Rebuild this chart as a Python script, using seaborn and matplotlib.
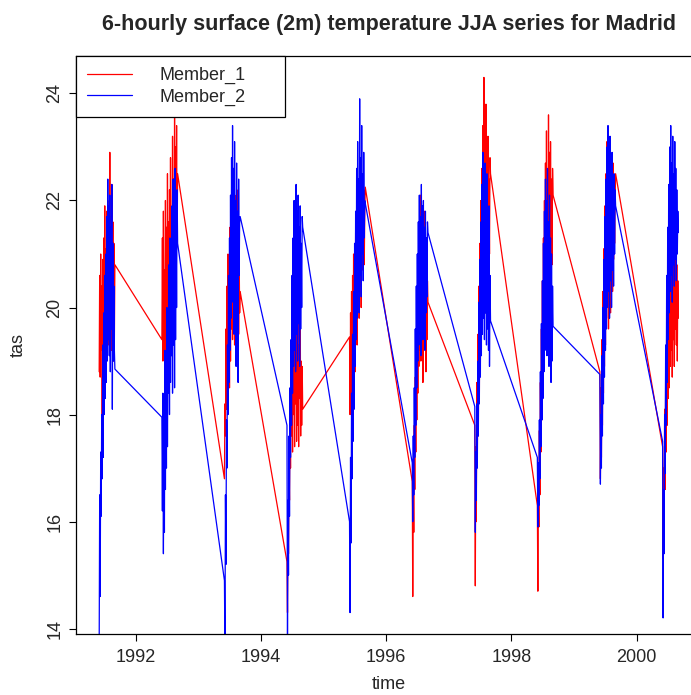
import numpy as np
import pandas as pd
import matplotlib
matplotlib.use("Agg")
import matplotlib.pyplot as plt
import matplotlib.dates as mdates
import seaborn as sns

years = [1991, 1992, 1993, 1994, 1995, 1996, 1997, 1998, 1999, 2000]
members = ["Member_1", "Member_2"]

m1_1991 = [18.8, 20.6, 18.7, 21.0, 19.2, 20.4, 17.6, 20.9, 19.0, 21.3, 18.9, 21.9, 19.5, 21.1, 19.0, 21.8, 19.8, 22.0, 19.3, 21.4, 20.0, 22.9, 19.6, 21.7, 19.2, 22.3, 20.1, 21.6, 19.0, 21.2, 19.4, 20.8]
m1_1992 = [19.4, 21.3, 19.0, 21.8, 19.6, 20.7, 18.6, 22.0, 19.8, 21.5, 19.2, 22.5, 20.1, 21.6, 19.5, 22.2, 20.4, 22.8, 19.9, 21.4, 20.6, 23.2, 20.3, 22.4, 21.0, 23.6, 20.8, 23.0, 21.6, 23.4, 21.2, 22.5]
m1_1993 = [16.8, 18.2, 17.6, 19.6, 18.1, 20.4, 18.6, 21.0, 19.2, 20.2, 18.5, 21.5, 19.0, 22.0, 19.6, 21.3, 19.4, 22.3, 20.0, 21.6, 19.3, 21.9, 20.2, 22.1, 19.8, 21.4, 20.3, 22.2, 19.5, 21.0, 19.9, 20.3]
m1_1994 = [15.25, 14.3, 16.2, 15.4, 17.1, 16.4, 18.3, 17.0, 19.2, 17.6, 19.8, 17.3, 20.4, 18.0, 19.6, 17.4, 20.2, 18.2, 19.9, 17.5, 20.1, 17.8, 19.3, 17.4, 19.7, 18.3, 20.3, 17.6, 19.0, 17.8, 18.9, 18.1]
m1_1995 = [19.45, 18.0, 19.9, 18.4, 20.3, 17.8, 20.6, 18.6, 21.0, 19.1, 20.5, 18.8, 21.4, 19.6, 21.8, 19.3, 22.0, 20.1, 21.5, 19.8, 22.3, 20.4, 22.6, 20.0, 21.9, 20.7, 22.4, 21.0, 22.2, 20.8, 21.7, 22.25]
m1_1996 = [16.75, 14.6, 16.9, 15.8, 17.8, 16.6, 18.7, 17.3, 19.5, 17.9, 20.2, 18.4, 21.0, 18.9, 21.6, 19.2, 22.1, 19.0, 21.3, 19.5, 21.9, 18.6, 21.4, 19.3, 21.8, 19.7, 21.0, 18.8, 20.8, 19.4, 20.5, 20.1]
m1_1997 = [17.8, 14.8, 17.4, 16.0, 18.6, 17.1, 19.5, 17.6, 20.4, 18.3, 21.2, 18.9, 22.0, 19.4, 22.6, 19.8, 23.4, 20.2, 24.3, 20.5, 23.0, 19.9, 23.8, 20.6, 22.7, 20.1, 23.2, 20.8, 22.4, 21.0, 22.8, 22.5]
m1_1998 = [16.3, 14.7, 16.8, 15.9, 17.7, 16.5, 18.6, 17.3, 19.6, 17.9, 20.5, 18.4, 21.3, 19.0, 22.0, 19.5, 22.7, 19.9, 23.3, 20.3, 22.5, 19.7, 23.6, 20.4, 22.9, 20.0, 23.1, 20.6, 22.4, 20.8, 22.6, 22.1]
m1_1999 = [18.8, 16.8, 18.5, 17.2, 19.4, 17.8, 20.3, 18.4, 21.1, 18.9, 21.9, 19.3, 22.5, 19.8, 23.1, 20.2, 22.6, 19.6, 22.9, 20.4, 22.3, 19.9, 22.8, 20.6, 22.2, 20.3, 22.7, 20.9, 22.4, 21.2, 22.0, 22.5]
m1_2000 = [17.4, 15.3, 17.0, 15.9, 18.1, 16.6, 18.8, 17.3, 19.6, 17.8, 20.4, 18.3, 21.1, 18.5, 21.6, 18.9, 22.3, 19.2, 21.4, 18.7, 21.9, 19.4, 21.2, 18.9, 21.7, 19.6, 21.0, 19.3, 20.8, 19.0, 20.5, 19.8]

m2_1991 = [13.6, 16.5, 14.6, 17.3, 16.1, 18.0, 16.8, 19.3, 17.2, 19.9, 18.0, 20.6, 18.3, 21.0, 18.6, 21.7, 19.0, 22.4, 19.4, 21.9, 19.1, 22.1, 18.8, 21.5, 19.6, 22.3, 18.1, 21.2, 19.0, 20.4, 19.2, 18.85]
m2_1992 = [17.95, 16.2, 18.4, 15.4, 17.6, 15.8, 19.2, 16.6, 18.9, 17.0, 20.0, 17.4, 19.5, 18.4, 20.8, 18.0, 21.3, 18.6, 20.6, 19.1, 21.9, 18.4, 22.4, 19.3, 21.6, 18.5, 22.6, 19.4, 21.8, 20.0, 22.2, 21.2]
m2_1993 = [14.9, 13.6, 16.5, 15.2, 17.9, 17.0, 19.3, 18.0, 20.6, 18.6, 21.3, 19.2, 22.1, 19.8, 22.8, 20.1, 23.4, 20.5, 22.6, 19.5, 23.1, 20.2, 22.0, 18.9, 22.7, 19.7, 21.8, 18.6, 22.4, 20.6, 21.6, 21.7]
m2_1994 = [17.8, 13.6, 16.4, 15.0, 17.6, 16.1, 18.5, 17.2, 19.4, 17.8, 20.6, 18.4, 21.3, 18.9, 22.0, 19.2, 21.6, 18.8, 22.3, 19.5, 21.8, 19.0, 22.1, 19.7, 21.5, 18.9, 21.9, 19.6, 21.2, 20.0, 21.7, 21.5]
m2_1995 = [16.0, 14.3, 17.2, 15.6, 18.4, 16.8, 19.5, 17.5, 20.3, 18.1, 21.2, 18.9, 21.8, 19.4, 22.6, 19.8, 23.1, 20.3, 22.4, 19.9, 23.9, 20.6, 22.8, 20.2, 23.4, 21.0, 22.5, 20.5, 22.9, 21.3, 22.0, 21.95]
m2_1996 = [17.1, 16.0, 17.6, 16.5, 18.5, 17.2, 19.6, 17.8, 20.4, 18.5, 21.0, 19.0, 21.6, 19.3, 22.1, 19.5, 21.7, 19.1, 22.3, 19.8, 21.9, 19.4, 22.0, 19.7, 21.5, 19.2, 21.8, 19.9, 21.3, 20.2, 21.6, 21.4]
m2_1997 = [18.15, 15.8, 17.3, 16.4, 18.2, 17.0, 19.0, 17.6, 20.1, 18.2, 20.9, 18.7, 21.6, 19.1, 22.3, 19.5, 22.9, 19.8, 22.2, 19.4, 22.7, 19.9, 21.8, 19.3, 22.5, 19.6, 21.4, 19.2, 21.9, 18.9, 20.6, 19.75]
m2_1998 = [17.2, 15.9, 17.1, 16.3, 17.9, 16.8, 18.8, 17.4, 19.7, 17.9, 20.5, 18.3, 21.2, 18.8, 21.8, 19.2, 22.4, 19.6, 22.0, 19.1, 22.6, 19.5, 21.6, 18.9, 22.1, 19.3, 21.3, 18.6, 21.0, 19.0, 20.4, 19.65]
m2_1999 = [18.75, 16.7, 18.0, 17.0, 19.1, 17.6, 20.0, 18.2, 20.9, 18.7, 21.7, 19.2, 22.4, 19.6, 23.0, 20.0, 23.4, 20.3, 22.6, 19.8, 23.2, 20.5, 22.3, 20.0, 22.9, 20.7, 22.1, 20.4, 22.5, 21.0, 22.2, 21.9]
m2_2000 = [17.5, 14.2, 16.6, 15.4, 18.0, 16.9, 19.3, 17.8, 20.6, 18.6, 21.5, 19.4, 22.3, 19.9, 23.0, 20.3, 23.4, 20.6, 22.7, 20.1, 23.2, 20.8, 22.5, 20.4, 23.1, 20.9, 22.6, 20.5, 22.2, 21.0, 21.8, 21.4]

member1 = [m1_1991, m1_1992, m1_1993, m1_1994, m1_1995, m1_1996, m1_1997, m1_1998, m1_1999, m1_2000]
member2 = [m2_1991, m2_1992, m2_1993, m2_1994, m2_1995, m2_1996, m2_1997, m2_1998, m2_1999, m2_2000]

rows = []
for name, series in zip(members, [member1, member2]):
    for yr, vals in zip(years, series):
        times = pd.date_range(f"{yr}-06-01 00:00", f"{yr}-08-31 18:00", periods=len(vals))
        for t, v in zip(times, vals):
            rows.append({"time": t, "tas": v, "member": name})
df = pd.DataFrame(rows)

sns.set_theme(style="white")
plt.rcParams["font.family"] = ["Liberation Sans", "DejaVu Sans"]

fig = plt.figure(figsize=(6.91, 6.95), dpi=100)
ax = fig.add_axes([76 / 691, 61 / 695, (701.5 - 76) / 691, 578 / 695])

sns.lineplot(data=df, x="time", y="tas", hue="member", estimator=None, sort=False,
             palette={"Member_1": "#ff0000", "Member_2": "#0000ff"}, linewidth=0.9, ax=ax)

# axis ranges as in the original: 4% padding around the first member's range
tmin, tmax = df["time"].min(), df["time"].max()
pad = (tmax - tmin) * 0.04
ax.set_xlim(tmin - pad, tmax + pad)
ref = df[df["member"] == "Member_1"]["tas"]
vmin, vmax = ref.min(), ref.max()
vpad = (vmax - vmin) * 0.04
ax.set_ylim(vmin - vpad, vmax + vpad)

ax.xaxis.set_major_locator(mdates.YearLocator(2))
ax.xaxis.set_major_formatter(mdates.DateFormatter("%Y"))
ax.set_yticks([14, 16, 18, 20, 22, 24])
ax.tick_params(axis="both", direction="out", length=5, width=0.8, color="black",
               labelsize=13, bottom=True, left=True)
ax.tick_params(axis="x", pad=6)
ax.tick_params(axis="y", pad=4)
for lab in ax.get_yticklabels():
    lab.set_rotation(90)
    lab.set_va("center")
for sp in ax.spines.values():
    sp.set_color("black")
    sp.set_linewidth(0.9)

ax.set_xlabel("time", fontsize=13, labelpad=7)
ax.set_ylabel("tas", fontsize=13, labelpad=14)
ax.set_title("6-hourly surface (2m) temperature JJA series for Madrid",
             fontsize=15.5, fontweight="bold", pad=19)

leg = ax.legend(loc="upper left", bbox_to_anchor=(0, 1.0, 209 / 625.5, 0.0), mode="expand",
                borderaxespad=0, fontsize=13, frameon=True, fancybox=False,
                edgecolor="black", framealpha=1, handlelength=2.5, handletextpad=1.5,
                borderpad=0.6, labelspacing=0.25)
leg.get_frame().set_linewidth(0.9)
for line in leg.get_lines():
    line.set_linewidth(0.9)

fig.savefig("out.png", dpi=100)
